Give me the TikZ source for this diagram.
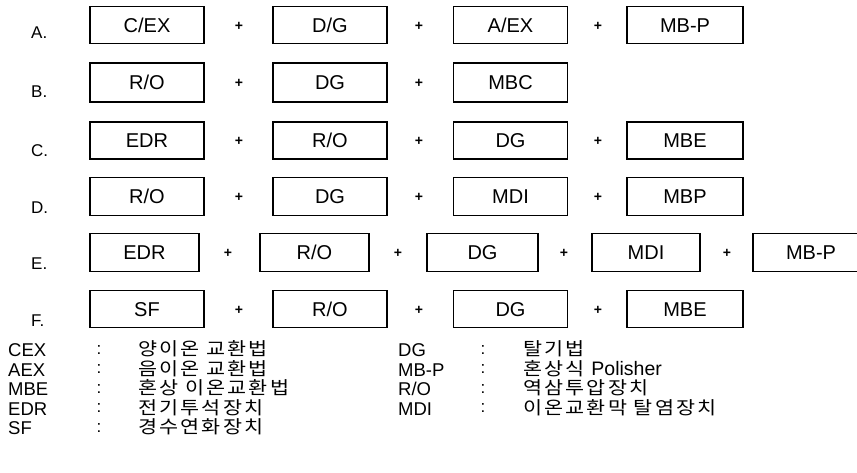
\documentclass[tikz,border=0pt]{standalone}
\usepackage{fontspec}
\setmainfont{Liberation Sans}
\newfontfamily\krfont[LetterSpace=12,FakeStretch=1.15]{Noto Sans CJK KR}
\begin{document}
\begin{tikzpicture}[x=1pt,y=-1pt,
  blk/.style={draw, line width=1.2pt, minimum width=114pt, minimum height=37pt,
    font=\fontsize{20}{20}\selectfont, inner sep=0pt, text height=14.3pt, text depth=0pt},
  pl/.style={font=\fontsize{14}{14}\selectfont\bfseries, inner sep=0pt},
  rl/.style={anchor=west, font=\fontsize{17}{18}\selectfont, inner sep=0pt},
  ab/.style={anchor=west, font=\fontsize{18.5}{18}\selectfont, inner sep=0pt, text height=13pt, text depth=0pt},
  co/.style={font=\fontsize{17}{18}\selectfont, inner sep=0pt},
  kt/.style={anchor=west, font=\fontsize{18}{18}\selectfont\krfont, inner sep=0pt, text height=12.5pt, text depth=1.5pt}]
\clip (0,0) rectangle (857,473);
\fill[white] (0,0) rectangle (857,473);

% Row labels
\node[rl] (la) at (31,33) {A.};
\node[rl] (lb) at (31,92) {B.};
\node[rl] (lc) at (31,151) {C.};
\node[rl] (ld) at (31,208) {D.};
\node[rl] (le) at (31,264) {E.};
\node[rl] (lf) at (31,321) {F.};

% Row A
\node[blk] (a1) at (147,25) {C/EX};
\node[pl] (ap1) at (239,26) {+};
\node[blk] (a2) at (330,25) {D/G};
\node[pl] (ap2) at (419,26) {+};
\node[blk] (a3) at (510.5,25) {A/EX};
\node[pl] (ap3) at (598,26) {+};
\node[blk, minimum width=116pt] (a4) at (685,25) {MB-P};

% Row B
\node[blk, minimum height=39pt] (b1) at (147,82.5) {R/O};
\node[pl] (bp1) at (239,83) {+};
\node[blk, minimum height=39pt] (b2) at (330,82.5) {DG};
\node[pl] (bp2) at (419,83) {+};
\node[blk, minimum height=39pt] (b3) at (510.5,82.5) {MBC};

% Row C
\node[blk] (c1) at (147,140.5) {EDR};
\node[pl] (cp1) at (239,141) {+};
\node[blk] (c2) at (330,140.5) {R/O};
\node[pl] (cp2) at (419,141) {+};
\node[blk] (c3) at (510.5,140.5) {DG};
\node[pl] (cp3) at (598,141) {+};
\node[blk, minimum width=116pt] (c4) at (685,140.5) {MBE};

% Row D
\node[blk, minimum height=38pt] (d1) at (147,196.5) {R/O};
\node[pl] (dp1) at (239,197) {+};
\node[blk, minimum height=38pt] (d2) at (330,196.5) {DG};
\node[pl] (dp2) at (419,197) {+};
\node[blk, minimum height=38pt] (d3) at (510.5,196.5) {MDI};
\node[pl] (dp3) at (598,197) {+};
\node[blk, minimum height=38pt, minimum width=116pt] (d4) at (685,196.5) {MBP};

% Row E
\node[blk, minimum height=38pt, minimum width=109pt] (e1) at (144.5,252.5) {EDR};
\node[pl] (ep1) at (228,253) {+};
\node[blk, minimum height=38pt, minimum width=109pt] (e2) at (314.5,252.5) {R/O};
\node[pl] (ep2) at (398,253) {+};
\node[blk, minimum height=38pt, minimum width=111pt] (e3) at (482.5,252.5) {DG};
\node[pl] (ep3) at (564,253) {+};
\node[blk, minimum height=38pt, minimum width=108pt] (e4) at (646,252.5) {MDI};
\node[pl] (ep4) at (727,253) {+};
\node[blk, minimum height=38pt, minimum width=116pt] (e5) at (811,252.5) {MB-P};

% Row F
\node[blk, minimum height=37pt] (f1) at (147,309) {SF};
\node[pl] (fp1) at (239,310) {+};
\node[blk, minimum height=37pt] (f2) at (330,309) {R/O};
\node[pl] (fp2) at (419,310) {+};
\node[blk, minimum height=37pt] (f3) at (510.5,309) {DG};
\node[pl] (fp3) at (598,310) {+};
\node[blk, minimum height=37pt, minimum width=116pt] (f4) at (685,309) {MBE};

% Legend left
\node[ab] (g1) at (8,350) {CEX};
\node[ab] (g2) at (8,369.5) {AEX};
\node[ab] (g3) at (8,389) {MBE};
\node[ab] (g4) at (8,408.5) {EDR};
\node[ab] (g5) at (8,428) {SF};
\node[co] (k1) at (99,350) {:};
\node[co] (k2) at (99,369.5) {:};
\node[co] (k3) at (99,389) {:};
\node[co] (k4) at (99,408.5) {:};
\node[co] (k5) at (99,428) {:};
\node[kt] (t1) at (138,350) {양이온 교환법};
\node[kt] (t2) at (138,369.5) {음이온 교환법};
\node[kt] (t3) at (138,389) {혼상 이온교환법};
\node[kt] (t4) at (138,408.5) {전기투석장치};
\node[kt] (t5) at (138,428) {경수연화장치};

% Legend right
\node[ab] (h1) at (398,350) {DG};
\node[ab] (h2) at (398,369.5) {MB-P};
\node[ab] (h3) at (398,389) {R/O};
\node[ab] (h4) at (398,408.5) {MDI};
\node[co] (m1) at (483,350) {:};
\node[co] (m2) at (483,369.5) {:};
\node[co] (m3) at (483,389) {:};
\node[co] (m4) at (483,408.5) {:};
\node[kt] (u1) at (523,350) {탈기법};
\node[kt] (u2) at (523,369.5) {혼상식 {\fontsize{19.5}{18}\selectfont\rmfamily Polisher}};
\node[kt] (u3) at (523,389) {역삼투압장치};
\node[kt] (u4) at (523,408.5) {이온교환막 탈염장치};
\end{tikzpicture}
\end{document}
